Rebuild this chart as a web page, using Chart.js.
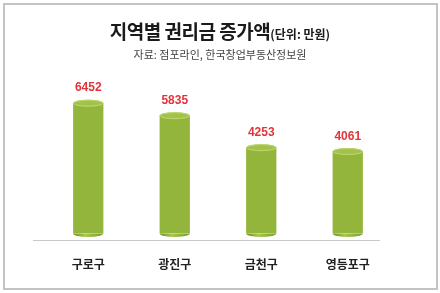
<!DOCTYPE html>
<html>
<head>
<meta charset="utf-8">
<script src="https://cdn.jsdelivr.net/npm/chart.js@4.4.0/dist/chart.umd.min.js"></script>
<style>
  html, body { margin: 0; padding: 0; background: #fff; }
  #wrap { position: relative; width: 440px; height: 293px; overflow: hidden; }
  #frame { position: absolute; left: 3px; top: 3px; width: 431px; height: 283px; border: 2px solid #c4c4c4; box-sizing: content-box; }
  #title { position: absolute; left: 0; width: 440px; top: 17px; text-align: center;
    font-family: "Noto Sans CJK KR", sans-serif; font-weight: 700; font-size: 19px; color: #1a1a1a; letter-spacing: -0.5px; }
  #title small { font-size: 12px; font-weight: 700; letter-spacing: 0; }
  #sub { position: absolute; left: 0; width: 440px; top: 46px; text-align: center;
    font-family: "Noto Sans CJK KR", sans-serif; font-size: 11px; color: #444; }
  canvas { position: absolute; left: 0; top: 0; }
</style>
</head>
<body>
<div id="wrap">
  <div id="frame"></div>
  <canvas id="c" width="440" height="293"></canvas>
  <div id="title">지역별 권리금 증가액<small>(단위: 만원)</small></div>
  <div id="sub">자료: 점포라인, 한국창업부동산정보원</div>
</div>
<script>
/* ── data ── */
const districts = ['구로구', '광진구', '금천구', '영등포구'];
const premiumIncrease = [6452, 5835, 4253, 4061];

/* cylinder gradient across each bar */
function cylFill(ctx) {
  const bar = ctx.element;
  const c = ctx.chart.ctx;
  if (!bar || bar.width === undefined) return '#94b53c';
  const l = bar.x - bar.width / 2, r = bar.x + bar.width / 2;
  const g = c.createLinearGradient(l, 0, r, 0);
  g.addColorStop(0, '#6a8c24');
  g.addColorStop(0.35, '#a7c94e');
  g.addColorStop(0.55, '#adcd54');
  g.addColorStop(1, '#7a9c2e');
  return g;
}

const cylinderCaps = {
  id: 'cylinderCaps',
  afterDatasetsDraw(chart) {
    const c = chart.ctx;
    const meta = chart.getDatasetMeta(0);
    c.save();
    meta.data.forEach((bar, i) => {
      const w = bar.width, rx = w / 2, ry = 3.5;
      // bottom ellipse
      const g = c.createLinearGradient(bar.x - rx, 0, bar.x + rx, 0);
      g.addColorStop(0, '#6a8c24'); g.addColorStop(0.4, '#a7c94e'); g.addColorStop(1, '#7a9c2e');
      c.fillStyle = g;
      c.beginPath(); c.ellipse(bar.x, bar.base, rx, ry, 0, 0, Math.PI); c.fill();
      // top cap
      c.fillStyle = '#a2c24c';
      c.beginPath(); c.ellipse(bar.x, bar.y, rx, ry, 0, 0, Math.PI * 2); c.fill();
      c.strokeStyle = '#bcd86e'; c.lineWidth = 1;
      c.beginPath(); c.ellipse(bar.x, bar.y, rx - 0.5, ry - 0.5, 0, 0, Math.PI * 2); c.stroke();
      // value label
      c.fillStyle = '#e3343a';
      c.font = 'bold 12px "Liberation Sans", sans-serif';
      c.textAlign = 'center'; c.textBaseline = 'middle';
      c.fillText(String(premiumIncrease[i]), bar.x, bar.y - 15);
    });
    // baseline
    const a = chart.chartArea;
    c.strokeStyle = '#c8c8c8'; c.lineWidth = 1;
    c.beginPath(); c.moveTo(a.left - 12, Math.round(a.bottom) + 6.5); c.lineTo(a.right - 11, Math.round(a.bottom) + 6.5); c.stroke();
    c.restore();
  }
};

new Chart(document.getElementById('c').getContext('2d'), {
  type: 'bar',
  data: {
    labels: districts,
    datasets: [{
      data: premiumIncrease,
      backgroundColor: cylFill,
      borderWidth: 0,
      barPercentage: 0.7,
      categoryPercentage: 0.5
    }]
  },
  options: {
    responsive: false, animation: false,
    layout: { padding: { left: 45, right: 49, top: 82, bottom: 5 } },
    plugins: { legend: { display: false }, tooltip: { enabled: false } },
    scales: {
      x: {
        grid: { display: false }, border: { display: false },
        ticks: { padding: 16, color: '#222', font: { size: 12, weight: 'bold', family: '"Noto Sans CJK KR", sans-serif' } }
      },
      y: { display: false, min: 0, max: 7500 }
    }
  },
  plugins: [cylinderCaps]
});
</script>
</body>
</html>
